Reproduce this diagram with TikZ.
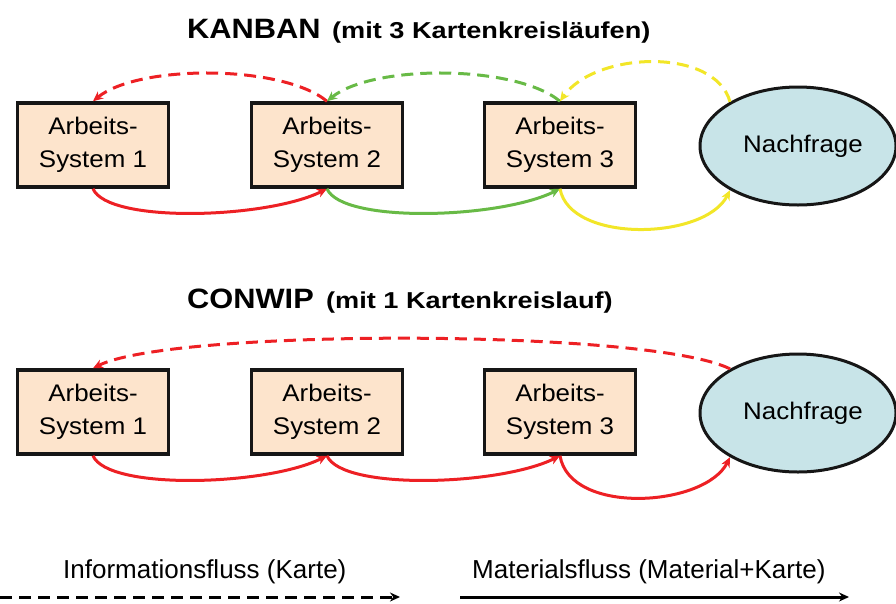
\documentclass[tikz,border=0pt]{standalone}
\usepackage{fontspec}
\setmainfont{Liberation Sans}
\newfontfamily\boxfont[FakeStretch=1.08]{Liberation Sans}
\newfontfamily\headfont[FakeStretch=1.1]{Liberation Sans}
\newfontfamily\subfont[FakeStretch=1.18]{Liberation Sans}
\usetikzlibrary{arrows.meta,shapes.geometric}

\definecolor{kred}{RGB}{237,32,36}
\definecolor{kgreen}{RGB}{104,186,70}
\definecolor{kyellow}{RGB}{242,230,40}
\definecolor{boxfill}{RGB}{253,228,204}
\definecolor{ellfill}{RGB}{200,228,232}
\definecolor{edge}{RGB}{22,22,22}

\tikzset{
  stationbox/.style={draw=edge, line width=3.5pt, fill=boxfill, minimum width=151pt,
    minimum height=84pt, inner sep=0pt, align=center,
    font=\boxfont\fontsize{24}{33}\selectfont},
  demand/.style={ellipse, draw=edge, line width=3pt, fill=ellfill, minimum width=196pt,
    minimum height=118pt, inner sep=0pt, font=\boxfont\fontsize{24}{29}\selectfont},
  headline/.style={anchor=base west, inner sep=0pt, font=\headfont\bfseries\fontsize{28}{32}\selectfont},
  subline/.style={anchor=base west, inner sep=0pt, font=\subfont\bfseries\fontsize{23}{27}\selectfont},
  legendtext/.style={anchor=base west, inner sep=0pt, font=\fontsize{26}{30}\selectfont},
  tip/.style={-{Stealth[length=10pt,width=9pt]}},
  info/.style={tip, line width=3pt, dash pattern=on 12pt off 7pt},
  material/.style={tip, line width=3pt},
}

\begin{document}
\begin{tikzpicture}[x=1pt,y=-1pt]
\useasboundingbox (0,0) rectangle (896,603);

% --- KANBAN ---
\node[headline] (t1) at (187,38) {KANBAN};
\node[subline] (s1) at (332,38) {(mit 3 Kartenkreisläufen)};

\node[stationbox] (a1) at (93,145) {Arbeits-\\System 1};
\node[stationbox] (a2) at (327,145) {Arbeits-\\System 2};
\node[stationbox] (a3) at (560,145) {Arbeits-\\System 3};
\node[demand] (n1) at (798,146) {\hspace*{10pt}Nachfrage};

\draw[info,kred] (a2.north) .. controls +(-45,-37) and +(45,-37) .. (a1.north);
\draw[info,kgreen] (a3.north) .. controls +(-45,-37) and +(45,-37) .. (a2.north);
\draw[info,kyellow] (n1.147) .. controls +(-15,-55) and +(35,-50) .. (a3.north);

\draw[material,kred] (a1.south) .. controls +(15,35) and +(-60,30) .. (a2.south);
\draw[material,kgreen] (a2.south) .. controls +(15,35) and +(-60,30) .. (a3.south);
\draw[material,kyellow] (a3.south) .. controls +(10,55) and +(-25,50) .. (n1.213);

% --- CONWIP ---
\node[headline] (t2) at (187,308) {CONWIP};
\node[subline] (s2) at (326,308) {(mit 1 Kartenkreislauf)};

\node[stationbox] (b1) at (93,412) {Arbeits-\\System 1};
\node[stationbox] (b2) at (327,412) {Arbeits-\\System 2};
\node[stationbox] (b3) at (560,412) {Arbeits-\\System 3};
\node[demand] (n2) at (798,413) {\hspace*{10pt}Nachfrage};

\draw[info,kred] (n2.147) .. controls +(-80,-40) and +(80,-40) .. (b1.north);

\draw[material,kred] (b1.south) .. controls +(15,35) and +(-60,30) .. (b2.south);
\draw[material,kred] (b2.south) .. controls +(15,35) and +(-60,30) .. (b3.south);
\draw[material,kred] (b3.south) .. controls +(10,60) and +(-25,50) .. (n2.213);

% --- legend ---
\node[legendtext] (l1) at (63,578) {Informationsfluss (Karte)};
\node[legendtext] (l2) at (472,578) {Materialsfluss (Material+Karte)};
\coordinate (i0) at (0,597);
\coordinate (i1) at (400,597);
\coordinate (m0) at (460,597);
\coordinate (m1) at (849,597);
\draw[info,black] (i0) -- (i1);
\draw[material,black] (m0) -- (m1);
\end{tikzpicture}
\end{document}
